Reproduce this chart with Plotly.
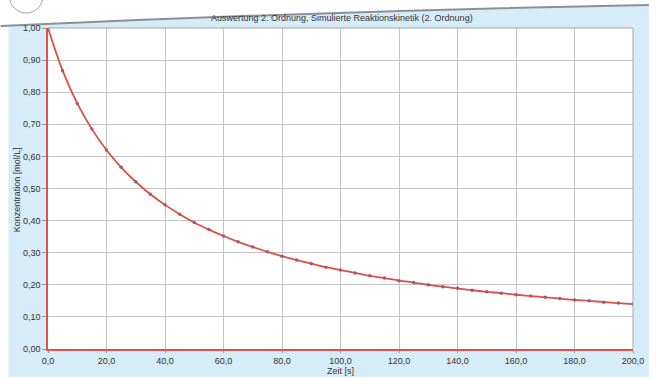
import plotly.graph_objects as go

# Data
zeit = [0, 5, 10, 15, 20, 25, 30, 35, 40, 45, 50, 55, 60, 65, 70, 75, 80, 85, 90, 95,
        100, 105, 110, 115, 120, 125, 130, 135, 140, 145, 150, 155, 160, 165, 170, 175,
        180, 185, 190, 195, 200]
konz = [1.000, 0.867, 0.765, 0.685, 0.620, 0.566, 0.521, 0.482, 0.449, 0.420, 0.394,
        0.372, 0.352, 0.334, 0.318, 0.303, 0.289, 0.277, 0.266, 0.255, 0.246, 0.237,
        0.228, 0.221, 0.213, 0.207, 0.200, 0.194, 0.189, 0.183, 0.178, 0.174, 0.169,
        0.165, 0.161, 0.157, 0.153, 0.150, 0.146, 0.143, 0.140]

title_text = "Auswertung 2. Ordnung, Simulierte Reaktionskinetik (2. Ordnung)"
x_title = "Zeit [s]"
y_title = "Konzentration [mol/L]"

W, H = 656, 379
L, R, T, B = 48, 16, 28, 30
PW, PH = W - L - R, H - T - B

def px(x):
    return (x - L) / PW

def py(y):
    return (H - B - y) / PH

fig = go.Figure()
fig.add_trace(go.Scatter(
    x=zeit, y=konz, mode="lines+markers",
    line=dict(color="#e0503c", width=1.8, shape="spline"),
    marker=dict(color="#9a5a86", size=3.5),
    showlegend=False, hoverinfo="skip"))

font = "Liberation Sans, Arial, sans-serif"
shapes = []
# blue panel with curved top edge
shapes.append(dict(
    type="path", xref="paper", yref="paper", layer="below",
    path=(f"M {px(8)} {py(26)} Q {px(330)} {py(11)} {px(656)} {py(5)} "
          f"L {px(656)} {py(377)} L {px(8)} {py(377)} Z"),
    fillcolor="#d6ecf8", line=dict(width=0)))
# white plot area on top of the panel
shapes.append(dict(
    type="rect", xref="paper", yref="paper", layer="below",
    x0=0, x1=1, y0=0, y1=1, fillcolor="white", line=dict(width=0)))
# gray curved line at top
shapes.append(dict(
    type="path", xref="paper", yref="paper", layer="below",
    path=f"M {px(0)} {py(26)} Q {px(330)} {py(11)} {px(656)} {py(5)}",
    line=dict(color="#8c9096", width=2)))
# circle at top-left
shapes.append(dict(
    type="circle", xref="paper", yref="paper", layer="below",
    x0=px(9), x1=px(43), y0=py(13), y1=py(-21),
    fillcolor="white", line=dict(color="#a0a4a8", width=1)))
# top and right plot border in gray
shapes.append(dict(type="line", xref="paper", yref="paper", x0=0, x1=1, y0=1, y1=1,
                   line=dict(color="#a8a8a8", width=1)))
shapes.append(dict(type="line", xref="paper", yref="paper", x0=1, x1=1, y0=0, y1=1,
                   line=dict(color="#a8a8a8", width=1)))

fig.update_layout(
    width=W, height=H,
    margin=dict(l=L, r=R, t=T, b=B),
    paper_bgcolor="white", plot_bgcolor="white",
    separators=",.",
    font=dict(family=font, size=9, color="#333333"),
    shapes=shapes,
    annotations=[
        dict(text=title_text, xref="paper", yref="paper", x=px(346), y=py(18),
             xanchor="center", yanchor="middle", showarrow=False,
             font=dict(family=font, size=9, color="#333333")),
        dict(text=x_title, xref="paper", yref="paper", x=px(344), y=py(371),
             xanchor="center", yanchor="middle", showarrow=False,
             font=dict(family=font, size=9, color="#333333")),
        dict(text=y_title, xref="paper", yref="paper", x=px(17), y=py(190),
             xanchor="center", yanchor="middle", showarrow=False, textangle=-90,
             font=dict(family=font, size=9, color="#333333")),
    ],
    xaxis=dict(range=[0, 200], tickvals=list(range(0, 201, 20)), tickformat=".1f",
               showgrid=True, gridcolor="#c4c4c4", gridwidth=1,
               showline=True, linecolor="#d9534f", linewidth=1.5,
               ticks="outside", ticklen=2, tickcolor="#999999",
               zeroline=False, fixedrange=True),
    yaxis=dict(range=[0, 1.0], tickvals=[i / 10 for i in range(11)], tickformat=".2f",
               showgrid=True, gridcolor="#c4c4c4", gridwidth=1,
               showline=True, linecolor="#d9534f", linewidth=1.5,
               ticks="outside", ticklen=4, tickcolor="#999999",
               zeroline=False, fixedrange=True),
)

fig.write_html("out.html")
